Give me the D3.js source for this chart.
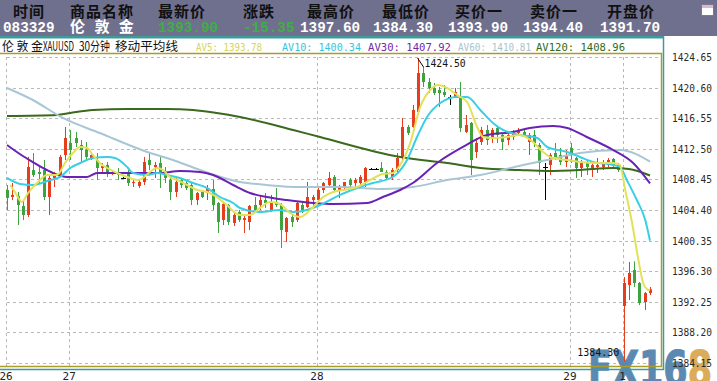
<!DOCTYPE html>
<html>
<head>
<meta charset="utf-8">
<script src="https://cdn.jsdelivr.net/npm/d3@7"></script>
<style>
html, body { margin: 0; padding: 0; background: #fff; overflow: hidden; }
svg { display: block; }
</style>
</head>
<body>
<script>
// quote strip
const quoteHeads = ["时间", "商品名称", "最新价", "涨跌", "最高价", "最低价", "买价一", "卖价一", "开盘价"];
const quoteValues = ["083329", "伦 敦 金", "1393.90", "-15.35", "1397.60", "1384.30", "1393.90", "1394.40", "1391.70"];

// title + moving average legend
const titleParts = ["伦 敦 金", "XAUUSD", "30分钟", "移动平均线"];
const maNames = ["AV5", "AV10", "AV30", "AV60", "AV120"];
const maLast = [1393.78, 1400.34, 1407.92, 1410.81, 1408.96];

// axes
const priceTicks = [1424.65, 1420.60, 1416.55, 1412.50, 1408.45, 1404.40, 1400.35, 1396.30, 1392.25, 1388.20, 1384.15];
const dayLabels = ["26", "27", "28", "29", "1"];
const dayFirstBar = [0, 12, 59, 107, 117];

// 30 minute bars
const opens = [1407.05,1406.12,1406.25,1404.93,1403.74,1409.69,1409.43,1409.69,1406.12,1408.64,
  1409.03,1411.68,1413.27,1413.93,1413.00,1412.34,1411.28,1411.02,1409.96,1410.36,
  1409.17,1409.43,1408.64,1409.30,1407.97,1407.58,1408.11,1411.02,1410.09,1410.62,
  1409.43,1408.37,1406.78,1408.37,1407.97,1407.71,1405.72,1406.78,1406.65,1407.18,
  1405.33,1403.08,1405.06,1402.68,1404.14,1403.08,1402.81,1405.06,1405.06,1405.72,
  1404.40,1405.46,1405.06,1401.49,1403.47,1403.08,1405.06,1404.80,1405.72,1405.72,
  1407.05,1407.71,1408.77,1407.05,1407.31,1408.37,1407.97,1407.97,1408.11,1409.83,
  1409.83,1409.96,1409.43,1408.77,1409.69,1411.28,1415.39,1415.39,1417.37,1422.53,
  1421.34,1420.55,1420.28,1420.02,1419.36,1419.36,1419.36,1414.72,1415.92,1412.08,
  1413.40,1414.99,1413.93,1415.25,1414.33,1413.66,1414.06,1414.59,1414.72,1413.40,
  1414.33,1413.00,1410.09,1410.36,1411.94,1411.68,1410.75,1412.61,1411.28,1409.96,
  1410.75,1409.69,1410.09,1410.09,1410.36,1411.15,1410.36,1391.70,1394.47,1396.46,
  1394.74,1392.22,1393.41];
const highs = [1407.71,1407.97,1406.78,1405.72,1411.42,1411.94,1410.09,1411.02,1409.03,1409.43,
  1411.68,1415.39,1414.99,1414.72,1413.66,1413.40,1412.08,1411.94,1410.62,1410.75,
  1409.69,1409.96,1408.77,1409.69,1408.37,1408.37,1411.42,1411.94,1410.75,1411.42,
  1410.09,1408.64,1408.77,1408.64,1408.37,1407.97,1406.78,1407.05,1407.71,1408.37,
  1405.46,1405.33,1405.19,1404.14,1404.40,1403.74,1405.06,1406.12,1406.39,1406.65,
  1406.39,1407.31,1405.33,1403.47,1403.74,1405.46,1405.46,1408.11,1406.39,1407.31,
  1408.11,1409.43,1409.03,1407.71,1408.11,1408.64,1408.64,1409.03,1410.09,1409.96,
  1409.96,1410.75,1409.69,1409.96,1411.94,1416.58,1415.65,1418.30,1424.50,1423.33,
  1421.87,1421.21,1420.68,1420.94,1419.62,1420.55,1421.34,1416.97,1416.05,1413.93,
  1415.39,1415.65,1415.25,1415.39,1414.59,1414.59,1414.99,1415.25,1414.99,1414.59,
  1414.99,1413.27,1410.62,1411.94,1413.27,1412.61,1412.34,1413.27,1411.42,1411.02,
  1411.02,1410.62,1411.28,1411.02,1411.28,1411.28,1410.62,1395.53,1397.51,1397.60,
  1394.87,1393.54,1394.21];
const lows = [1404.40,1405.72,1402.41,1403.08,1403.47,1408.77,1407.97,1405.72,1403.74,1407.44,
  1408.77,1411.02,1411.02,1412.74,1410.62,1411.02,1411.02,1408.37,1409.43,1408.77,
  1409.03,1408.37,1408.64,1407.58,1407.44,1407.31,1407.71,1409.69,1408.64,1407.31,
  1407.97,1405.72,1406.12,1407.31,1407.05,1405.06,1405.06,1405.99,1405.72,1404.40,
  1401.35,1402.41,1402.41,1402.28,1402.81,1401.35,1401.75,1404.00,1404.40,1404.67,
  1404.14,1404.80,1399.37,1400.16,1402.15,1402.81,1404.00,1404.67,1404.67,1405.33,
  1406.65,1407.44,1406.78,1405.99,1407.05,1407.31,1407.44,1407.71,1407.44,1409.83,
  1409.69,1409.43,1408.37,1408.37,1409.43,1411.02,1414.33,1415.25,1417.24,1420.68,
  1419.88,1419.62,1418.03,1419.36,1418.30,1419.23,1414.72,1414.59,1409.03,1411.28,
  1413.00,1413.00,1413.27,1413.27,1412.34,1413.00,1413.66,1414.33,1414.06,1411.68,
  1412.74,1409.03,1405.72,1409.03,1411.02,1410.36,1410.09,1410.62,1408.64,1408.77,
  1409.03,1408.77,1409.30,1409.69,1410.09,1410.09,1409.43,1384.30,1392.49,1394.21,
  1391.82,1391.16,1393.15];
const closes = [1405.99,1406.39,1405.06,1403.74,1410.09,1409.03,1409.17,1406.12,1408.64,1409.03,
  1411.42,1413.93,1412.34,1413.27,1412.34,1411.42,1411.68,1409.96,1410.22,1409.30,
  1409.43,1409.03,1408.64,1407.97,1408.11,1408.11,1410.75,1410.36,1410.36,1409.43,
  1408.64,1406.78,1408.11,1407.71,1407.31,1405.72,1406.65,1406.12,1407.31,1405.06,
  1402.81,1405.19,1402.81,1403.74,1403.08,1403.34,1404.93,1404.40,1405.72,1405.33,
  1405.46,1405.06,1401.75,1403.34,1402.81,1405.33,1404.14,1406.12,1406.12,1407.05,
  1407.97,1408.64,1407.05,1407.44,1408.11,1407.71,1408.37,1408.77,1409.96,1409.83,
  1409.83,1409.43,1408.64,1409.69,1411.28,1415.39,1414.59,1417.64,1422.53,1421.34,
  1420.55,1419.88,1419.88,1419.62,1419.36,1420.02,1415.25,1415.65,1411.02,1413.27,
  1414.99,1413.66,1414.99,1414.33,1413.40,1414.33,1414.72,1414.99,1414.33,1414.33,
  1413.27,1410.62,1410.09,1411.68,1411.42,1410.75,1411.68,1411.68,1409.96,1410.75,
  1410.09,1410.36,1410.36,1410.75,1411.02,1410.36,1409.69,1394.74,1396.06,1394.74,
  1392.09,1393.41,1393.90];

// moving averages: [bar, price]
const av5Pts = [[0.6,1407.71],[1.5,1406.78],[2.8,1405.46],[4,1406.65],[5.7,1407.97],[7.6,1409.03],
  [9.5,1409.03],[11,1410.62],[12.5,1411.94],[13.9,1412.74],[15.2,1412.61],[16.3,1411.68],
  [17.6,1410.62],[19,1409.96],[20.9,1409.30],[22.8,1408.77],[24.9,1408.37],[25.8,1408.64],
  [27.1,1409.43],[28.5,1409.96],[29.6,1409.69],[30.9,1408.77],[32.3,1408.37],[34.2,1407.71],
  [36.1,1407.05],[38,1406.78],[39.8,1406.12],[41.7,1405.06],[44.2,1403.74],[46.1,1403.74],
  [48,1404.67],[49.9,1405.46],[51.8,1405.19],[53.7,1404.00],[55.6,1403.47],[56.9,1404.00],
  [58.1,1404.80],[60,1406.12],[61.9,1406.78],[63.8,1407.05],[66.4,1407.44],[68.9,1408.37],
  [71.3,1409.17],[73.2,1409.30],[74.6,1410.36],[76.5,1413.27],[78.4,1418.03],[80.3,1420.28],
  [81.8,1420.94],[83.5,1420.55],[85.4,1419.62],[87.3,1418.69],[89.2,1415.39],[90.3,1414.06],
  [92.2,1413.93],[94.9,1414.06],[97.3,1414.33],[99.8,1413.40],[101.7,1412.08],[103.6,1411.28],
  [106.3,1411.02],[108.7,1410.75],[112,1410.62],[115,1410.62],[116.3,1410.36],[117.3,1407.05],
  [118.6,1402.68],[119.7,1398.18],[120.7,1394.74],[121.4,1393.95],[122,1393.78]];
const av10Pts = [[0,1408.64],[2.5,1407.84],[4.9,1407.71],[8.2,1408.37],[10.1,1408.77],[12,1409.96],
  [13.9,1410.62],[16.3,1411.28],[19,1411.42],[20.5,1411.28],[22.8,1410.09],[23.9,1409.30],
  [26.6,1409.03],[28.5,1409.30],[30.4,1409.03],[32.8,1408.64],[35.3,1407.97],[38,1407.31],
  [40.4,1406.12],[42.9,1405.33],[44.2,1404.67],[48,1404.14],[51.8,1404.40],[54.3,1404.14],
  [56.9,1404.40],[59.4,1405.06],[63.2,1406.39],[66.4,1407.31],[69.4,1407.97],[73.2,1408.77],
  [75.9,1411.02],[77.8,1414.06],[79.7,1416.71],[82.2,1418.56],[85.4,1419.36],[87.3,1419.36],
  [89.8,1417.64],[92.2,1415.92],[94.1,1414.99],[97.3,1414.33],[100.6,1413.93],[102.5,1412.74],
  [106.3,1412.08],[108.7,1411.42],[111.2,1410.75],[115,1410.36],[116.3,1410.09],[117.6,1408.37],
  [119.5,1405.72],[121.1,1403.08],[122,1400.34]];
const av30Pts = [[0,1413.00],[3,1411.55],[4.9,1410.75],[6.8,1409.96],[8.7,1409.30],[11.4,1408.77],
  [15.2,1408.77],[17.1,1409.30],[21.4,1409.30],[29,1409.30],[32.8,1409.56],[36.6,1409.43],
  [39.1,1409.03],[42.9,1407.71],[46.1,1406.65],[49.3,1406.12],[53.1,1405.72],[58.1,1405.33],
  [61.9,1405.19],[68.3,1405.33],[71.3,1406.12],[74.6,1407.05],[77,1407.97],[81.6,1410.62],
  [86.5,1412.74],[91.1,1414.33],[96,1414.72],[99.2,1415.25],[103.6,1415.52],[106.3,1415.25],
  [110,1414.06],[115,1412.34],[118.8,1410.62],[122,1407.92]];
const av60Pts = [[0,1420.55],[4.9,1418.96],[10.6,1416.58],[17.6,1414.59],[26.6,1412.08],[31.5,1411.02],
  [36.6,1409.69],[44.2,1408.11],[49.3,1407.71],[55.6,1407.44],[63.2,1407.44],[71.3,1407.18],
  [77,1407.44],[83.5,1408.37],[89.8,1409.03],[97.9,1410.36],[102.5,1411.02],[108.7,1411.94],
  [116.3,1412.34],[122,1410.81]];
const av120Pts = [[0,1416.84],[9.5,1416.97],[12,1417.24],[16.3,1417.64],[22.8,1417.77],[30.4,1417.77],
  [35.3,1417.64],[39.8,1417.24],[44.2,1416.71],[54.3,1414.99],[59.4,1414.06],[74.6,1411.42],
  [83.5,1410.62],[89.8,1409.96],[97.3,1409.69],[102.5,1409.56],[108.7,1409.69],[115,1409.96],
  [118,1409.83],[122,1408.96]];

const W = 717, H = 381;
const plot = { left: 0, right: 662, top: 53.5, bottom: 366.5 };

const x = d3.scaleLinear().domain([0, closes.length - 1]).range([7, 650]);
const y = d3.scaleLinear().domain([priceTicks[priceTicks.length - 1], priceTicks[0]]).range([363, 57]);

const svg = d3.select("body").append("svg")
    .attr("width", W)
    .attr("height", H);

svg.append("rect").attr("width", W).attr("height", H).attr("fill", "#fff");

// ---- quote strip ----
svg.append("rect").attr("x", 0).attr("y", 0).attr("width", W).attr("height", 36).attr("fill", "#6f6f8e");
svg.append("rect").attr("x", 0).attr("y", 36).attr("width", 664).attr("height", 2.5).attr("fill", "#3f9b9b");

const headX = [13, 70, 158, 243, 307, 382, 455, 530, 607];
const valX = [3, 70, 158, 243, 300, 373, 448, 523, 600];

svg.selectAll("text.qh")
    .data(quoteHeads)
    .enter().append("text")
    .attr("class", "qh")
    .attr("x", (d, i) => headX[i])
    .attr("y", 17)
    .attr("font-family", "'Noto Sans CJK SC'")
    .attr("font-weight", 700)
    .attr("font-size", 15)
    .attr("letter-spacing", 1)
    .attr("fill", "#111")
    .text(d => d);

svg.selectAll("text.qv")
    .data(quoteValues)
    .enter().append("text")
    .attr("class", "qv")
    .attr("x", (d, i) => valX[i])
    .attr("y", 31.5)
    .attr("font-family", (d, i) => i === 1 ? "'Noto Sans CJK SC'" : "'Liberation Mono', monospace")
    .attr("font-weight", 700)
    .attr("font-size", (d, i) => i === 1 ? 15 : 14.3)
    .attr("word-spacing", (d, i) => i === 1 ? 6 : 0)
    .style("white-space", "pre")
    .attr("fill", (d, i) => (i === 2 || i === 3) ? "#3fae46" : "#fff")
    .text(d => d);

// little window icon
svg.append("rect").attr("x", 701.5).attr("y", 4.5).attr("width", 12).attr("height", 11)
    .attr("fill", "#fff").attr("stroke", "#7a7a8a");
svg.append("rect").attr("x", 702).attr("y", 5).attr("width", 11).attr("height", 3).attr("fill", "#dcb6d8");

// ---- title row ----
const titleX = [2, 43, 79, 115], titleW = [41, 31, 31, 63];
svg.selectAll("text.tt")
    .data(titleParts)
    .enter().append("text")
    .attr("class", "tt")
    .attr("x", (d, i) => titleX[i])
    .attr("y", 50.5)
    .attr("font-family", "'Noto Sans CJK SC'")
    .attr("font-size", 12.5)
    .attr("textLength", (d, i) => titleW[i])
    .attr("lengthAdjust", "spacingAndGlyphs")
    .style("white-space", "pre")
    .attr("fill", "#111")
    .text(d => d);

const maColors = ["#e2e25a", "#38cfe4", "#6a22b4", "#a9c6d6", "#3a6a1c"];
const maTextColors = ["#d4d45e", "#38c4dc", "#7428a8", "#a8c2d0", "#2f6a16"];
const legX = [196, 282, 368, 458, 536], legW = [66, 79, 83, 73, 89];
svg.selectAll("text.leg")
    .data(maNames)
    .enter().append("text")
    .attr("class", "leg")
    .attr("x", (d, i) => legX[i])
    .attr("y", 50.5)
    .attr("font-family", "'DejaVu Sans Mono', monospace")
    .attr("font-size", 11)
    .attr("textLength", (d, i) => legW[i])
    .attr("lengthAdjust", "spacingAndGlyphs")
    .attr("fill", (d, i) => maTextColors[i])
    .text((d, i) => d + ": " + maLast[i].toFixed(2));

// ---- grid ----
const grid = svg.append("g").attr("stroke", "#b9b9b9").attr("stroke-dasharray", "3,3").attr("stroke-width", 1);
grid.selectAll("line.h")
    .data(priceTicks)
    .enter().append("line")
    .attr("x1", 7).attr("x2", plot.right - 1)
    .attr("y1", d => Math.round(y(d)) + 0.5)
    .attr("y2", d => Math.round(y(d)) + 0.5);
grid.selectAll("line.v")
    .data(dayFirstBar)
    .enter().append("line")
    .attr("x1", d => Math.round(x(d) - 1) + 0.5)
    .attr("x2", d => Math.round(x(d) - 1) + 0.5)
    .attr("y1", 57).attr("y2", plot.bottom);

// ---- watermark ----
const logo = svg.append("text")
    .attr("x", 588)
    .attr("y", 386)
    .attr("font-family", "'DejaVu Sans', sans-serif")
    .attr("font-weight", 700)
    .attr("font-size", 50)
    .attr("stroke-width", 1.2)
    .attr("textLength", 124)
    .attr("lengthAdjust", "spacingAndGlyphs")
    .attr("opacity", 0.92);
logo.append("tspan").attr("fill", "#4f7fab").attr("stroke", "#4f7fab").text("FX16");
logo.append("tspan").attr("fill", "#d8a64c").attr("stroke", "#d8a64c").text("8");

// ---- candles ----
const bars = d3.range(closes.length);
const candleColor = i => closes[i] > opens[i] ? "#e43e1c" : (closes[i] < opens[i] ? "#3ea23e" : "#000");

svg.append("g").selectAll("line")
    .data(bars)
    .enter().append("line")
    .attr("x1", i => Math.round(x(i)) + 0.5)
    .attr("x2", i => Math.round(x(i)) + 0.5)
    .attr("y1", i => y(highs[i]))
    .attr("y2", i => y(lows[i]))
    .attr("stroke", candleColor)
    .attr("stroke-width", 1);

svg.append("g").selectAll("rect")
    .data(bars)
    .enter().append("rect")
    .attr("x", i => Math.round(x(i)) - (opens[i] === closes[i] ? 2 : 1))
    .attr("width", i => opens[i] === closes[i] ? 5 : 3)
    .attr("y", i => y(Math.max(opens[i], closes[i])))
    .attr("height", i => Math.max(1, Math.abs(y(opens[i]) - y(closes[i]))))
    .attr("fill", candleColor);

// ---- moving averages ----
const maLine = d3.line()
    .x(d => x(d[0]))
    .y(d => y(d[1]))
    .curve(d3.curveMonotoneX);
[av120Pts, av60Pts, av30Pts, av10Pts, av5Pts].forEach((pts, k) => {
    svg.append("path")
        .attr("d", maLine(pts))
        .attr("fill", "none")
        .attr("stroke", maColors[4 - k])
        .attr("stroke-width", 2)
        .attr("stroke-linejoin", "round");
});

// ---- high / low notes ----
const hi = d3.maxIndex(highs), lo = d3.minIndex(lows);
svg.append("line")
    .attr("x1", x(hi) - 0.5).attr("y1", y(highs[hi]))
    .attr("x2", x(hi) + 5.5).attr("y2", y(highs[hi]) + 9)
    .attr("stroke", "#000").attr("stroke-width", 1);
svg.append("text")
    .attr("x", x(hi) + 6.5)
    .attr("y", y(highs[hi]) + 8.5)
    .attr("font-family", "'DejaVu Sans Mono', monospace")
    .attr("font-size", 11)
    .attr("textLength", 41)
    .attr("lengthAdjust", "spacingAndGlyphs")
    .attr("fill", "#111")
    .text(highs[hi].toFixed(2));
svg.append("text")
    .attr("x", x(lo) - 4.5)
    .attr("y", y(lows[lo]) - 6)
    .attr("text-anchor", "end")
    .attr("font-family", "'DejaVu Sans Mono', monospace")
    .attr("font-size", 11)
    .attr("textLength", 42)
    .attr("lengthAdjust", "spacingAndGlyphs")
    .attr("fill", "#111")
    .text(lows[lo].toFixed(2));

// ---- frame ----
const frame = svg.append("g").attr("fill", "none");
frame.append("path")
    .attr("d", `M0,${plot.top}H${plot.right - 0.5}V${plot.bottom}H0`)
    .attr("stroke", "#aa9c2a").attr("stroke-width", 1.5);
frame.append("path")
    .attr("d", `M663.5,36V369.5H0`)
    .attr("stroke", "#3f9b9b").attr("stroke-width", 1.5);

// ---- axes labels ----
svg.selectAll("text.py")
    .data(priceTicks)
    .enter().append("text")
    .attr("class", "py")
    .attr("x", 672)
    .attr("y", d => y(d) + 4)
    .attr("font-family", "'DejaVu Sans Mono', monospace")
    .attr("font-size", 10)
    .attr("textLength", 40)
    .attr("lengthAdjust", "spacingAndGlyphs")
    .attr("fill", "#2a2a2a")
    .text(d => d.toFixed(2));

svg.selectAll("text.dx")
    .data(dayLabels)
    .enter().append("text")
    .attr("class", "dx")
    .attr("x", (d, i) => x(dayFirstBar[i]) - 1)
    .attr("y", 380)
    .attr("text-anchor", "middle")
    .attr("font-family", "'DejaVu Sans Mono', monospace")
    .attr("font-size", 11)
    .attr("fill", "#222")
    .text(d => d);
</script>
</body>
</html>
